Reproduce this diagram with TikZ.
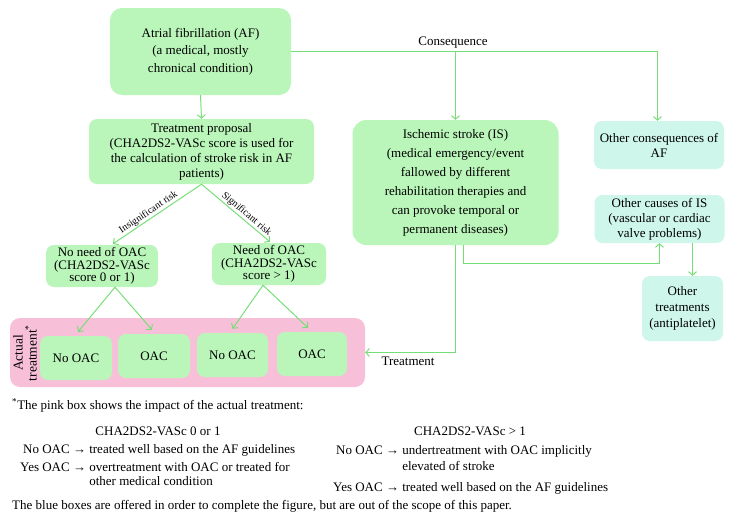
\documentclass[tikz,border=0pt]{standalone}
\usepackage{fontspec}
\setmainfont{Liberation Serif}
\usetikzlibrary{arrows.meta,calc}
\definecolor{boxgreen}{RGB}{186,246,186}
\definecolor{linegreen}{RGB}{118,222,118}
\definecolor{boxblue}{RGB}{206,246,234}
\definecolor{boxpink}{RGB}{248,192,216}
\tikzset{
  gbox/.style={fill=boxgreen, draw=none, rounded corners=8pt, align=center, inner sep=0pt},
  bbox/.style={fill=boxblue, draw=none, rounded corners=8pt, align=center, inner sep=0pt},
  ln/.style={draw=linegreen, line width=1pt},
  arr/.style={-{Straight Barb[length=3.5pt,width=8pt]}},
  bt/.style={font=\fontsize{13}{15}\selectfont},
  ft/.style={font=\fontsize{13}{15}\selectfont, inner sep=0pt},
  rl/.style={font=\fontsize{10}{11}\selectfont, inner sep=1pt},
}
\begin{document}
\begin{tikzpicture}[x=1pt,y=-1pt]
\useasboundingbox (0,0) rectangle (733,525);
% boxes
\node[gbox, rounded corners=12pt, minimum width=181pt, minimum height=87pt, font=\fontsize{13}{17.5}\selectfont] (af) at (200.5,51.5) {Atrial fibrillation (AF)\\(a medical, mostly\\chronical condition)};
\node[gbox, bt, minimum width=225pt, minimum height=65pt] (tp) at (201.5,151.5) {Treatment proposal\\(CHA2DS2-VASc score is used for\\the calculation of stroke risk in AF\\patients)};
\node[gbox, rounded corners=14pt, minimum width=206pt, minimum height=125pt, font=\fontsize{13}{19}\selectfont] (is) at (455.5,182.5) {Ischemic stroke (IS)\\(medical emergency/event\\fallowed by different\\rehabilitation therapies and\\can provoke temporal or\\permanent diseases)};
\node[bbox, bt, minimum width=130pt, minimum height=48pt] (oc) at (659,145) {Other consequences of\\AF};
\node[bbox, bt, minimum width=130pt, minimum height=48pt] (ocause) at (659.5,219) {Other causes of IS\\(vascular or cardiac\\valve problems)};
\node[bbox, font=\fontsize{13}{16}\selectfont, minimum width=81pt, minimum height=65pt] (ot) at (682.5,308.5) {Other\\treatments\\(antiplatelet)};
\node[gbox, font=\fontsize{13}{12.8}\selectfont, minimum width=112pt, minimum height=42pt] (nn) at (102,266) {No need of OAC\\(CHA2DS2-VASc\\score 0 or 1)};
\node[gbox, font=\fontsize{13}{12.8}\selectfont, minimum width=114pt, minimum height=42pt] (nd) at (269,264) {Need of OAC\\(CHA2DS2-VASc\\score > 1)};
% pink box
\node[fill=boxpink, rounded corners=10pt, minimum width=355pt, minimum height=69pt, inner sep=0pt] (pink) at (187.5,352.5) {};
\node[rotate=90, align=center, font=\fontsize{13.5}{14}\selectfont, inner sep=0pt] (act) at (25,353) {Actual\\treatment\textsuperscript{*}};
\node[gbox, bt, minimum width=72pt, minimum height=44pt] (no1) at (76,358) {No OAC};
\node[gbox, bt, minimum width=72pt, minimum height=44pt] (oa1) at (154,356) {OAC};
\node[gbox, bt, minimum width=71pt, minimum height=44pt] (no2) at (232.5,355) {No OAC};
\node[gbox, bt, minimum width=70pt, minimum height=44pt] (oa2) at (312,354) {OAC};
% connectors
\draw[ln,arr] (af.south) -- (tp.north);
\draw[ln,arr] (af.east) -| ([xshift=-1.5pt]oc.north);
\draw[ln,arr] (af.east -| is.north) -- (is.north);
\node[font=\fontsize{13}{14}\selectfont] (cons) at (453,43) {Consequence};
\draw[ln,arr] (tp.south) -- ([xshift=11pt,yshift=1pt]nn.north) node[pos=0.56, sloped, above, rl] (lins) {Insignificant risk};
\draw[ln,arr] (tp.south) -- ([xshift=1pt,yshift=1pt]nd.north) node[pos=0.6, sloped, above, rl] (lsig) {Significant risk};
\draw[ln,arr] ([xshift=13pt]nn.south) -- ([xshift=2pt,yshift=4pt]no1.north);
\draw[ln,arr] ([xshift=13pt]nn.south) -- ([xshift=-2pt,yshift=4pt]oa1.north);
\draw[ln,arr] ([xshift=-6pt]nd.south) -- ([yshift=4pt]no2.north);
\draw[ln,arr] ([xshift=-6pt]nd.south) -- ([xshift=-4pt,yshift=4pt]oa2.north);
\draw[ln,arr] (is.south) |- (pink.east);
\node[font=\fontsize{13}{14}\selectfont] (treat) at (408,361) {Treatment};
\draw[ln,arr] ([xshift=8pt]is.south) -- ++(0,18) -| (ocause.south);
\draw[ln,arr] ([xshift=33pt]ocause.south) -- ([xshift=33pt]ocause.south |- ot.north);
% footnotes
\node[ft, anchor=base west] (f1) at (12,409) {\textsuperscript{*}The pink box shows the impact of the actual treatment:};
\node[ft, anchor=base] (h1) at (158,435) {CHA2DS2-VASc 0 or 1};
\node[ft, anchor=base] (h2) at (470,435) {CHA2DS2-VASc > 1};
\node[ft, anchor=base west] (t1) at (20,453) {\begin{tabular}[t]{@{}r@{\ }c@{\ }l@{}}No OAC & → & treated well based on the AF guidelines\\[3pt]
Yes OAC & → & overtreatment with OAC or treated for\\[-1pt]
 & & other medical condition\end{tabular}};
\node[ft, anchor=base west] (t2) at (333,454) {\begin{tabular}[t]{@{}r@{\ }c@{\ }l@{}}No OAC & → & undertreatment with OAC implicitly\\[1pt]
 & & elevated of stroke\\[6pt]
Yes OAC & → & treated well based on the AF guidelines\end{tabular}};
\node[ft, anchor=base west] (f2) at (12,509) {The blue boxes are offered in order to complete the figure, but are out of the scope of this paper.};
\end{tikzpicture}
\end{document}
